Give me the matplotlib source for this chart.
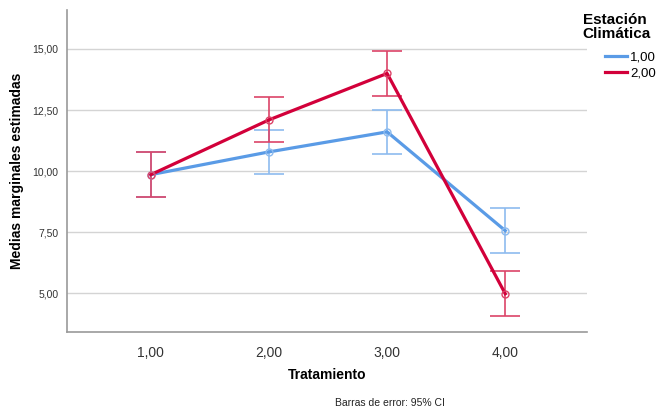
import matplotlib
matplotlib.use("Agg")
import matplotlib.pyplot as plt

plt.rcParams["font.family"] = ["Liberation Sans", "DejaVu Sans"]

tratamiento = [1, 2, 3, 4]
tick_labels = ["1,00", "2,00", "3,00", "4,00"]
estaciones = ["1,00", "2,00"]
medias_1 = [9.86, 10.79, 11.61, 7.57]
medias_2 = [9.86, 12.10, 14.00, 4.99]
ci_1 = [0.92, 0.91, 0.91, 0.92]
ci_2 = [0.92, 0.92, 0.92, 0.92]
y_ticks = [5.0, 7.5, 10.0, 12.5, 15.0]

BLUE = "#5a9be6"
BLUE_ERR = "#8dbbef"
RED = "#d2003a"
RED_ERR = "#dc4468"
GRID = "#d4d4d4"
SPINE = "#9a9a9a"

fig = plt.figure(figsize=(6.63, 4.11), dpi=100)
ax = fig.add_axes([0.101, 0.192, 0.784, 0.784])

for medias, ci, color, ecolor, label in [
    (medias_1, ci_1, BLUE, BLUE_ERR, estaciones[0]),
    (medias_2, ci_2, RED, RED_ERR, estaciones[1]),
]:
    ax.errorbar(tratamiento, medias, yerr=ci, fmt="none", ecolor=ecolor,
                elinewidth=1.2, capsize=11, capthick=1.2, zorder=2)
    ax.plot(tratamiento, medias, color=color, linewidth=2.3, zorder=3, label=label)
    ax.plot(tratamiento, medias, linestyle="none", marker="o", markersize=5,
            markerfacecolor="none", markeredgecolor=ecolor, markeredgewidth=1,
            zorder=4)

ax.set_xlim(0.29, 4.69)
ax.set_ylim(3.42, 16.6)
ax.set_xticks(tratamiento)
ax.set_xticklabels(tick_labels, fontsize=10, color="#333333")
ax.set_yticks(y_ticks)
ax.set_yticklabels([f"{v:.2f}".replace(".", ",") for v in y_ticks], fontsize=7.5,
                   color="#333333")
ax.tick_params(length=0, pad=6)
ax.tick_params(axis="x", pad=10)
ax.grid(axis="y", color=GRID, linewidth=1)
ax.set_axisbelow(True)
for s in ("top", "right"):
    ax.spines[s].set_visible(False)
for s in ("left", "bottom"):
    ax.spines[s].set_color(SPINE)
    ax.spines[s].set_linewidth(1.2)

ax.set_ylabel("Medias marginales estimadas", fontsize=10, fontweight="bold", labelpad=6)
ax.set_xlabel("Tratamiento", fontsize=10, fontweight="bold", labelpad=6)
fig.text(0.588, 0.012, "Barras de error: 95% CI", fontsize=7.5, ha="center",
         color="#222222")

# leyenda: título aparte, entradas con sangría
fig.text(0.879, 0.968, "Estación\nClimática", fontsize=11, fontweight="bold",
         va="top", ha="left", linespacing=1.0)
ax.legend(loc="upper left", bbox_to_anchor=(0.912, 0.875),
          bbox_transform=fig.transFigure, frameon=False, fontsize=9.5,
          handlelength=1.7, handletextpad=0.25, labelspacing=0.25,
          borderaxespad=0, borderpad=0)

fig.savefig("out.png", dpi=100, facecolor="white")
